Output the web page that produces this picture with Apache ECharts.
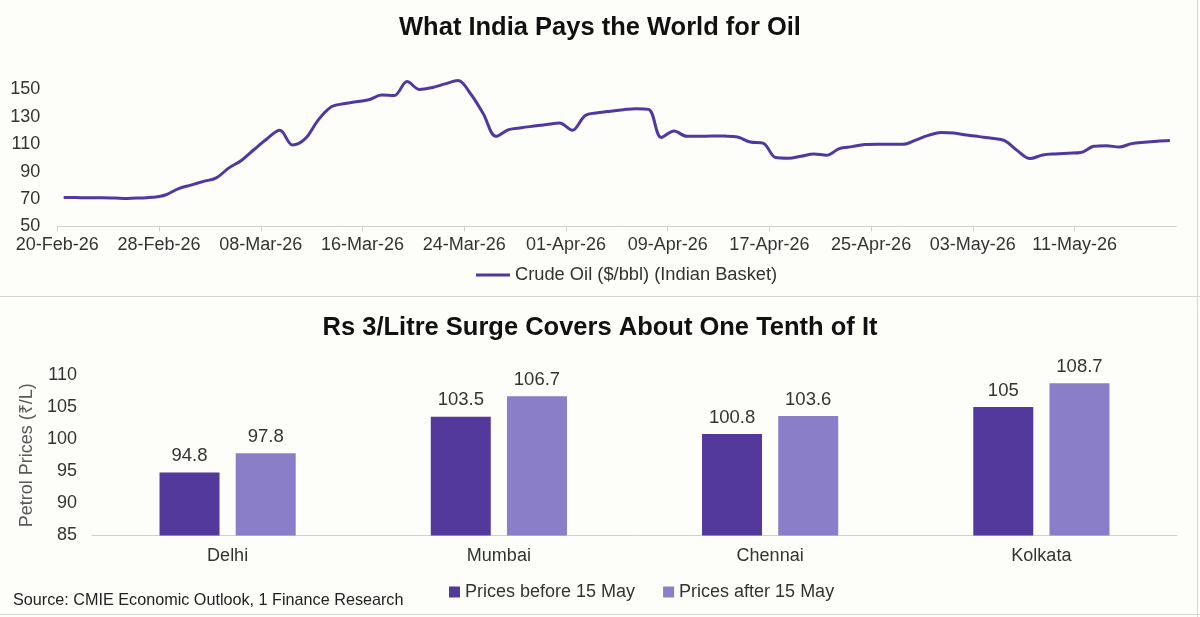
<!DOCTYPE html>
<html>
<head>
<meta charset="utf-8">
<script src="https://cdn.jsdelivr.net/npm/echarts@6/dist/echarts.min.js"></script>
<style>
  html, body { margin: 0; padding: 0; background: #fdfdfa; }
  #chart { width: 1200px; height: 617px; }
</style>
</head>
<body>
<div id="chart"></div>
<script>
// crude oil, daily from 20-Feb-26
var startDate = '2026-02-20';
var axisDays = 88;
var crudePrices = [
    71.2, 71.1, 71.0, 71.0, 70.8, 70.5, 70.8, 71.3, 73.0, 77.5,
    80.2, 82.9, 85.5, 92.8, 98.4, 106.4, 114.1, 120.2, 109.5, 114.1,
    127.5, 137.1, 139.6, 141.0, 142.5, 145.9, 145.6, 155.8, 150.0, 151.5,
    154.1, 156.5, 146.9, 132.3, 115.8, 120.7, 122.1, 123.3, 124.5, 125.5,
    120.2, 130.9, 133.0, 134.2, 135.2, 136.0, 135.5, 115.0, 119.7, 115.8,
    115.8, 116.1, 116.0, 115.3, 111.7, 110.9, 100.3, 99.8, 101.3, 103.0,
    102.0, 106.9, 108.3, 109.8, 110.0, 110.0, 110.0, 113.1, 116.5, 118.7,
    118.2, 116.8, 115.6, 114.4, 112.7, 105.4, 99.6, 102.2, 103.0, 103.5,
    104.0, 108.5, 109.0, 108.0, 110.5, 111.5, 112.2, 112.7
];

// petrol prices by city
var cities = ['Delhi', 'Mumbai', 'Chennai', 'Kolkata'];
var pricesBefore = [94.8, 103.5, 100.8, 105];
var pricesAfter = [97.8, 106.7, 103.6, 108.7];

var months = ['Jan', 'Feb', 'Mar', 'Apr', 'May', 'Jun', 'Jul', 'Aug', 'Sep', 'Oct', 'Nov', 'Dec'];
var startMs = Date.parse(startDate + 'T00:00:00Z');

function dayLabel(d) {
    var dt = new Date(startMs + d * 86400000);
    var dd = dt.getUTCDate();
    return (dd < 10 ? '0' + dd : dd) + '-' + months[dt.getUTCMonth()] + '-' + String(dt.getUTCFullYear()).slice(2);
}

var lineData = crudePrices.map(function (v, i) {
    return [i + 0.5, v];
});

var FONT = 'Liberation Sans, Arial, sans-serif';
var chart = echarts.init(document.getElementById('chart'));

var option = {
    backgroundColor: '#fdfdfa',
    animation: false,
    textStyle: { fontFamily: FONT },
    title: [{
        text: 'What India Pays the World for Oil',
        left: 'center',
        top: 10,
        textStyle: { fontSize: 25.5, fontWeight: 'bold', color: '#111', fontFamily: FONT }
    }, {
        text: 'Rs 3/Litre Surge Covers About One Tenth of It',
        left: 'center',
        top: 310,
        textStyle: { fontSize: 25.5, fontWeight: 'bold', color: '#111', fontFamily: FONT }
    }, {
        text: 'Source: CMIE Economic Outlook, 1 Finance Research',
        left: 8,
        top: 588,
        textStyle: { fontSize: 16.2, fontWeight: 'normal', color: '#222', fontFamily: FONT }
    }],
    legend: [{
        data: ['Crude Oil ($/bbl) (Indian Basket)'],
        left: 471,
        top: 261,
        itemWidth: 34,
        itemHeight: 3,
        icon: 'rect',
        textStyle: { fontSize: 18.3, color: '#333', fontFamily: FONT }
    }, {
        data: ['Prices before 15 May', 'Prices after 15 May'],
        left: 444,
        top: 578,
        itemWidth: 11,
        itemHeight: 11,
        itemGap: 28,
        icon: 'rect',
        textStyle: { fontSize: 18, color: '#333', fontFamily: FONT }
    }],
    grid: [{
        left: 57.3,
        top: 75.8,
        width: 1119,
        height: 150.7,
        containLabel: false
    }, {
        left: 92,
        top: 375,
        width: 1085,
        height: 160.5,
        containLabel: false
    }],
    xAxis: [{
        type: 'value',
        gridIndex: 0,
        min: 0,
        max: axisDays,
        interval: 8,
        splitLine: { show: false },
        axisLine: { show: true, lineStyle: { color: '#d0d0d0', width: 1 } },
        axisTick: { show: true, length: 5, lineStyle: { color: '#d0d0d0' } },
        axisLabel: {
            showMaxLabel: false,
            margin: 10,
            fontSize: 18,
            color: '#333',
            formatter: function (v) { return dayLabel(v); }
        }
    }, {
        type: 'category',
        gridIndex: 1,
        data: cities,
        axisLine: { show: true, lineStyle: { color: '#d0d0d0', width: 1 } },
        axisTick: { show: false },
        axisLabel: { margin: 12, fontSize: 18, color: '#333' }
    }],
    yAxis: [{
        type: 'value',
        gridIndex: 0,
        min: 50,
        max: 160,
        interval: 20,
        splitLine: { show: false },
        axisLine: { show: false },
        axisTick: { show: false },
        axisLabel: { showMaxLabel: false, margin: 17, fontSize: 18, color: '#333' }
    }, {
        type: 'value',
        gridIndex: 1,
        min: 85,
        max: 110,
        interval: 5,
        name: 'Petrol Prices (₹/L)',
        nameLocation: 'middle',
        nameGap: 48,
        nameRotate: 90,
        nameTextStyle: { fontSize: 18, color: '#595959', fontFamily: FONT },
        splitLine: { show: false },
        axisLine: { show: false },
        axisTick: { show: false },
        axisLabel: { margin: 15, fontSize: 18, color: '#333' }
    }],
    series: [{
        name: 'Crude Oil ($/bbl) (Indian Basket)',
        type: 'line',
        xAxisIndex: 0,
        yAxisIndex: 0,
        data: lineData,
        smooth: 0.35,
        showSymbol: false,
        symbol: 'none',
        lineStyle: { color: '#5038a0', width: 3 },
        itemStyle: { color: '#5038a0' }
    }, {
        name: 'Prices before 15 May',
        type: 'bar',
        xAxisIndex: 1,
        yAxisIndex: 1,
        data: pricesBefore,
        barWidth: 60,
        barGap: '27%',
        itemStyle: { color: '#52399b' },
        label: { show: true, position: 'top', distance: 7, fontSize: 18.5, color: '#333' }
    }, {
        name: 'Prices after 15 May',
        type: 'bar',
        xAxisIndex: 1,
        yAxisIndex: 1,
        data: pricesAfter,
        barWidth: 60,
        barGap: '27%',
        itemStyle: { color: '#8b7ec8' },
        label: { show: true, position: 'top', distance: 7, fontSize: 18.5, color: '#333' }
    }],
    graphic: [{
        type: 'line',
        shape: { x1: 0, y1: 296.5, x2: 1200, y2: 296.5 },
        style: { stroke: '#d6d6d6', lineWidth: 1 }
    }, {
        type: 'line',
        shape: { x1: 1197.5, y1: 0, x2: 1197.5, y2: 617 },
        style: { stroke: '#d6d6d6', lineWidth: 1 }
    }, {
        type: 'line',
        shape: { x1: 0, y1: 614.5, x2: 1200, y2: 614.5 },
        style: { stroke: '#d6d6d6', lineWidth: 1 }
    }]
};

chart.setOption(option);
</script>
</body>
</html>
